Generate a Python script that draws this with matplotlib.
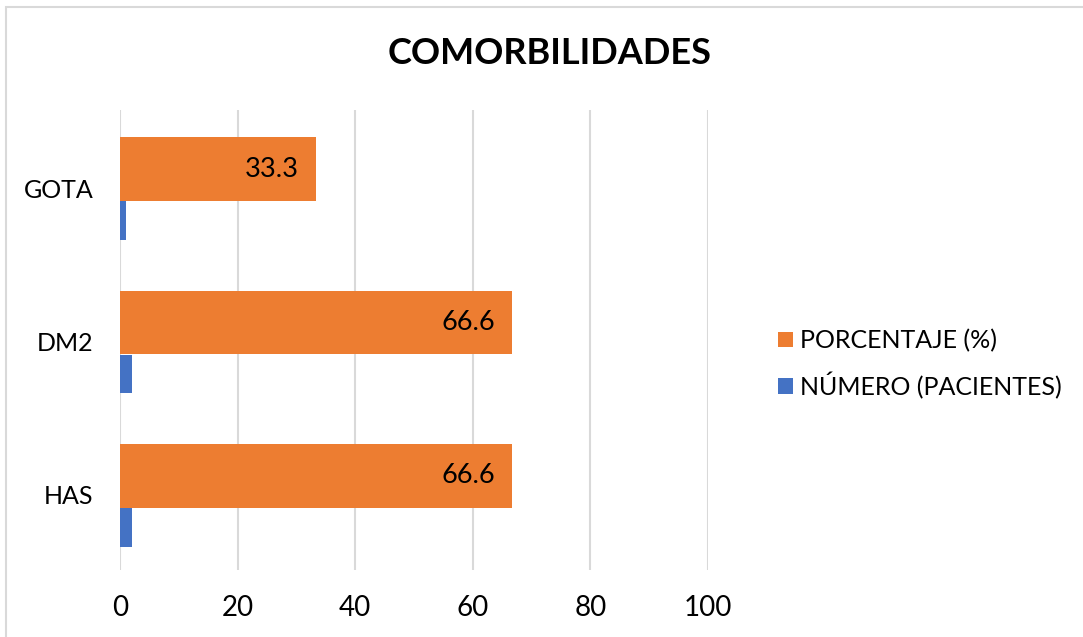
import matplotlib
matplotlib.use("Agg")
import matplotlib.pyplot as plt
import numpy as np
from matplotlib.patches import Rectangle

categories = ["HAS", "DM2", "GOTA"]
porcentaje = [66.6, 66.6, 33.3]
numero = [2, 2, 1]
x_ticks = [0, 20, 40, 60, 80, 100]

ORANGE = "#ED7D31"
BLUE = "#4472C4"

plt.rcParams['font.family'] = ['Lato', 'DejaVu Sans']

W, H = 1083, 637
fig = plt.figure(figsize=(W / 100, H / 100), dpi=100)
fig.patches.append(Rectangle((6 / W, -0.1), 1.2, 1 - 7 / H + 0.1, transform=fig.transFigure,
                             fill=False, edgecolor="#D9D9D9", linewidth=1.5))

ax = fig.add_axes([120 / W, 1 - 570 / H, (708 - 120) / W, (570 - 110) / H])

y = np.arange(len(categories))
b1 = ax.barh(y + 0.124, porcentaje, height=0.416, color=ORANGE, label="PORCENTAJE (%)", zorder=3)
b2 = ax.barh(y - 0.212, numero, height=0.253, color=BLUE, label="NÚMERO (PACIENTES)", zorder=3)

for yi, v in zip(y, porcentaje):
    ax.annotate(f"{v}", xy=(v, yi + 0.124), xytext=(-12, 0), textcoords="offset points",
                ha="right", va="center", fontsize=19.5, color="black", zorder=4)

ax.set_xlim(0, 100)
ax.set_ylim(-0.49, 2.51)
ax.set_xticks(x_ticks)
ax.set_yticks(y)
ax.set_yticklabels(categories)
ax.tick_params(axis="x", length=0, labelsize=20, colors="black", pad=18)
ax.tick_params(axis="y", length=0, labelsize=18, colors="black", pad=19)
ax.grid(axis="x", color="#D9D9D9", linewidth=1.5, zorder=0)
for s in ax.spines.values():
    s.set_visible(False)

fig.text(550 / W, 1 - 54 / H, "COMORBILIDADES", ha="center", va="center",
         fontsize=26, fontweight="bold", color="black")

fig.legend(handles=[b1, b2], loc="center left", bbox_to_anchor=(755 / W, 1 - 364 / H),
           frameon=False, fontsize=18, handlelength=0.6, handleheight=0.6,
           handletextpad=0.3, labelspacing=0.78)

fig.savefig("out.png", dpi=100, facecolor="white")
